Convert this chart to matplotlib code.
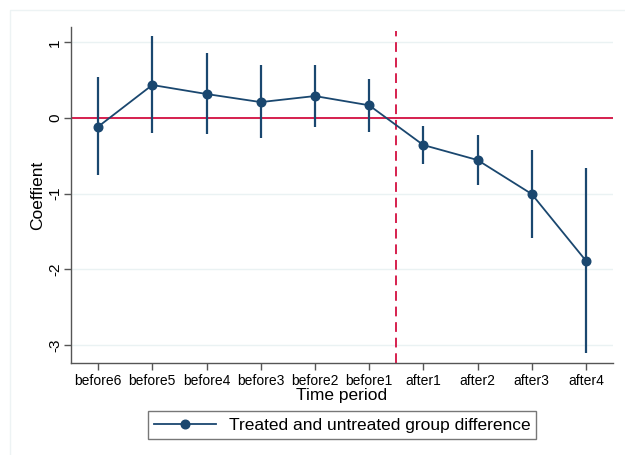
import matplotlib
matplotlib.use("Agg")
import matplotlib.pyplot as plt
from matplotlib.lines import Line2D
from matplotlib.patches import Rectangle

periods = ["before6", "before5", "before4", "before3", "before2", "before1",
           "after1", "after2", "after3", "after4"]
coef = [-0.115, 0.436, 0.317, 0.21, 0.29, 0.168, -0.357, -0.555, -1.004, -1.885]
ci_low = [-0.75, -0.20, -0.21, -0.27, -0.115, -0.18, -0.61, -0.89, -1.59, -3.10]
ci_high = [0.54, 1.08, 0.855, 0.70, 0.70, 0.51, -0.105, -0.22, -0.42, -0.665]
yticks = [1, 0, -1, -2, -3]

navy = "#1a476f"
red = "#d6204e"
grid = "#eaf2f3"

W, H = 625, 455
fig = plt.figure(figsize=(W / 100, H / 100), dpi=100)
fig.patch.set_facecolor("white")

# faint outer graph-region frame
fig.add_artist(Rectangle((10 / W, -0.01), 1.0, 1 - 10 / H + 0.01, transform=fig.transFigure,
                         fill=False, edgecolor="#edf3f4", linewidth=1.0))

ax = fig.add_axes([71 / W, 1 - 363 / H, (613 - 71) / W, (363 - 27) / H])
x = list(range(1, len(periods) + 1))

ax.set_xlim(0.5, 10.5)
ax.set_ylim((118 - 363) / 75.7, (118 - 27) / 75.7)

for t in yticks:
    ax.axhline(t, color=grid, linewidth=1.0, zorder=0)

ax.vlines(x, ci_low, ci_high, color=navy, linewidth=1.6, zorder=2)
ax.axhline(0, color=red, linewidth=1.4, zorder=1)
ax.axvline(6.5, color=red, linewidth=1.4, linestyle=(0, (5, 3)), zorder=1,
           ymax=(363 - 31) / (363 - 27))
ax.plot(x, coef, color=navy, linewidth=1.3, marker="o", markersize=6.2, zorder=3)

ax.set_xticks(x)
ax.set_xticklabels(periods, fontsize=10, fontfamily="Liberation Sans")
ax.set_yticks(yticks)
ax.set_yticklabels([str(t) for t in yticks], fontsize=11, rotation=90,
                   va="center", fontfamily="Liberation Sans")
ax.tick_params(axis="both", color="#555555", length=5, width=1)
ax.tick_params(axis="x", pad=3)
ax.tick_params(axis="y", pad=1.5)

for s in ["top", "right"]:
    ax.spines[s].set_visible(False)
for s in ["left", "bottom"]:
    ax.spines[s].set_color("#555555")
    ax.spines[s].set_linewidth(1.0)

ax.set_xlabel("Time period", fontsize=12.5, fontfamily="Liberation Sans", labelpad=0)
ax.set_ylabel("Coeffient", fontsize=12.5, fontfamily="Liberation Sans", labelpad=2)

handle = Line2D([], [], color=navy, linewidth=1.3, marker="o", markersize=6.2)
leg = fig.legend([handle], ["Treated and untreated group difference"],
                 loc="center", bbox_to_anchor=(342 / W, 1 - 425 / H),
                 frameon=True, fancybox=False, edgecolor="#555555",
                 prop={"family": "Liberation Sans", "size": 12.5},
                 handlelength=3.6, borderpad=0.35, handletextpad=0.7)
leg.get_frame().set_linewidth(1.0)

fig.savefig("out.png", dpi=100, facecolor="white")
